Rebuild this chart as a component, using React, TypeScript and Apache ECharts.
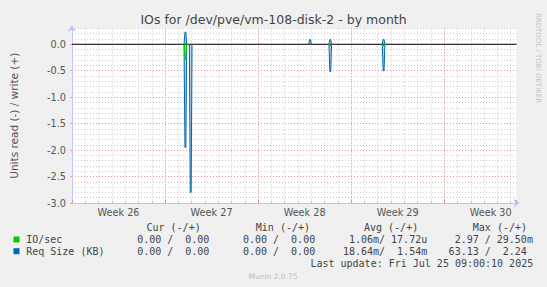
import React, { useEffect, useRef } from 'react';
import * as echarts from 'echarts';

// ---- data ----
const XMAX = 33.44; // days shown
const weekLabels = ['Week 26', 'Week 27', 'Week 28', 'Week 29', 'Week 30'];
const spikeDays = [8.53, 8.93, 17.91, 19.43, 23.44];
const reqSizeRead = [-1.95, -2.8, 0, -0.52, -0.5];
const reqSizeWrite = [0.23, 0, 0.09, 0.09, 0.09];
const ioSecRead = [-0.28, 0, 0, -0.03, -0.03];
const ioSecWrite = [0.02, 0, 0, 0.01, 0.01];

const legendHeaders = ['Cur (-/+)', 'Min (-/+)', 'Avg (-/+)', 'Max (-/+)'];
const ioSecStats = ['  0.00 /  0.00 ', '  0.00 /  0.00 ', '  1.06m/ 17.72u', '  2.97 / 29.50m'];
const reqSizeStats = ['  0.00 /  0.00 ', '  0.00 /  0.00 ', ' 18.64m/  1.54m', ' 63.13 /  2.24 '];
const lastUpdate = 'Last update: Fri Jul 25 09:00:10 2025';

const BLUE = '#0066b3';
const GREEN = '#00cc00';
const AXIS = '#c4c4f4';
const MINOR = '#cdcdcd';
const MAJOR = 'rgba(235,110,110,0.6)';
const MONO = '"DejaVu Sans Mono", monospace';
const SANS = '"DejaVu Sans", sans-serif';

function spikeData(days: number[], values: number[], hw: number) {
  const out: any[] = [];
  days.forEach((d, i) => {
    const v = values[i];
    if (v === 0) return;
    out.push([d - hw, 0], [d - hw / 3, v], [d + hw / 3, v], [d + hw, 0], [d + hw, '-']);
  });
  return out;
}

function txt(text: string, x: number, y: number, opts: any = {}) {
  const align = opts.align || 'left';
  return {
    type: 'text',
    x,
    y,
    rotation: opts.rotation || 0,
    silent: true,
    style: {
      text,
      fill: opts.fill || '#444',
      fontSize: opts.size || 10,
      fontFamily: opts.family || MONO,
      align,
      textAlign: align,
      verticalAlign: 'middle',
      textVerticalAlign: 'middle',
    },
  };
}

function statTexts(field: string, startX: number, y: number) {
  const CW = 6.02;
  const out: any[] = [];
  const re = /\S+(?: \S+)*/g;
  let m: RegExpExecArray | null;
  while ((m = re.exec(field)) !== null) {
    out.push(txt(m[0], startX + m.index * CW, y));
  }
  return out;
}

export default function App() {
  const ref = useRef<HTMLDivElement>(null);
  useEffect(() => {
    document.body.style.margin = '0';
    const chart = echarts.init(ref.current!, null, { renderer: 'svg' });
    const colStarts = [125.1, 230.9, 336.9, 442.6];
    const headerStarts = [146.5, 255.8, 364.0, 472.8];
    const graphics: any[] = [];
    graphics.push(txt('IOs for /dev/pve/vm-108-disk-2 - by month', 273.5, 19.5, { align: 'center', size: 12.5, family: SANS, fill: '#444' }));
    graphics.push(txt('RRDTOOL / TOBI OETIKER', 538, 58, { align: 'center', size: 7, family: SANS, fill: '#c4c4c4', rotation: -Math.PI / 2 }));
    legendHeaders.forEach((h, i) => graphics.push(txt(h, headerStarts[i], 227.7)));
    graphics.push({ type: 'rect', shape: { x: 13.5, y: 236.5, width: 6, height: 6 }, style: { fill: GREEN }, silent: true });
    graphics.push({ type: 'rect', shape: { x: 13.5, y: 248.2, width: 6, height: 6 }, style: { fill: BLUE }, silent: true });
    graphics.push(txt('IO/sec', 26.2, 239.5));
    graphics.push(txt('Req Size (KB)', 26.2, 251.2));
    ioSecStats.forEach((s, i) => graphics.push(...statTexts(s, colStarts[i], 239.5)));
    reqSizeStats.forEach((s, i) => graphics.push(...statTexts(s, colStarts[i], 251.2)));
    graphics.push(txt(lastUpdate, 533.2, 263.5, { align: 'right' }));
    graphics.push(txt('Munin 2.0.75', 273, 276, { align: 'center', size: 7.5, family: SANS, fill: '#bdbdbd' }));

    const lineSeries = (name: string, data: any[], color: string, area: boolean, z: number) => ({
      name,
      type: 'line',
      data,
      xAxisIndex: 0,
      yAxisIndex: 0,
      symbol: 'none',
      showSymbol: false,
      connectNulls: false,
      silent: true,
      z,
      lineStyle: { color, width: 1 },
      itemStyle: { color },
      areaStyle: area ? { color: 'rgba(0,102,179,0.42)', origin: 'auto' } : undefined,
    });

    chart.setOption({
      animation: false,
      backgroundColor: '#f0f0f0',
      grid: {
        left: 66,
        top: 28.4,
        right: 30.5,
        bottom: 84,
        show: true,
        backgroundColor: '#ffffff',
        borderWidth: 0,
      },
      xAxis: [
        {
          type: 'value', min: 0, max: XMAX, interval: 1, position: 'bottom', z: 0,
          axisLine: { show: true, onZero: false, lineStyle: { color: AXIS, width: 1 }, symbol: ['none', 'arrow'], symbolSize: [7, 6], symbolOffset: [0, 3] },
          axisTick: { show: true, inside: true, length: 2, lineStyle: { color: '#bbbbbb' } },
          axisLabel: { show: false },
          splitLine: { show: true, showMinLine: false, showMaxLine: false, lineStyle: { color: MINOR, type: [1, 2], width: 1 } },
        },
        {
          type: 'value', min: 0, max: XMAX, interval: 7, position: 'bottom', z: 1,
          axisLine: { show: false, onZero: false },
          axisTick: { show: true, inside: true, length: 3, lineStyle: { color: MAJOR } },
          axisLabel: { show: false },
          splitLine: { show: true, showMinLine: false, showMaxLine: false, lineStyle: { color: MAJOR, type: [1, 2], width: 1 } },
        },
        {
          type: 'value', min: 0, max: XMAX, interval: 3.5, position: 'bottom', z: 1,
          axisLine: { show: false, onZero: false },
          axisTick: { show: false },
          splitLine: { show: false },
          axisLabel: {
            show: true, margin: 4, color: '#555', fontSize: 9.7, fontFamily: SANS, hideOverlap: false,
            formatter: (v: number) => {
              const k = Math.round(v / 3.5);
              if (Math.abs(v - k * 3.5) > 1e-6 || k % 2 !== 1) return '';
              return weekLabels[(k - 1) / 2] || '';
            },
          },
        },
      ],
      yAxis: [
        {
          type: 'value', min: -3, max: 0.3, interval: 0.5, position: 'left', z: 1,
          name: 'Units read (-) / write (+)', nameLocation: 'middle', nameGap: 53, nameRotate: 90,
          nameTextStyle: { color: '#555', fontSize: 10.5, fontFamily: SANS },
          axisLine: { show: true, onZero: false, lineStyle: { color: AXIS, width: 1 }, symbol: ['none', 'arrow'], symbolSize: [7, 6], symbolOffset: [0, 3] },
          axisTick: { show: true, inside: false, length: 2, lineStyle: { color: MAJOR } },
          axisLabel: {
            show: true, margin: 6, color: '#555', fontSize: 9.7, fontFamily: SANS,
            formatter: (v: number) => (v > 0.01 ? '' : v.toFixed(1)),
          },
          splitLine: { show: true, showMinLine: false, showMaxLine: false, lineStyle: { color: MAJOR, type: [1, 2], width: 1 } },
        },
        {
          type: 'value', min: -3, max: 0.3, interval: 0.1, position: 'left', z: 0,
          axisLine: { show: false, onZero: false },
          axisTick: { show: false },
          axisLabel: { show: false },
          splitLine: { show: true, showMinLine: false, showMaxLine: true, lineStyle: { color: MINOR, type: [1, 2], width: 1 } },
        },
      ],
      series: [
        {
          name: 'zero', type: 'line', data: [[0, 0], [XMAX, 0]], xAxisIndex: 0, yAxisIndex: 0,
          symbol: 'none', silent: true, z: 2, lineStyle: { color: '#000', width: 1 },
        },
        lineSeries('Req Size read', spikeData(spikeDays, reqSizeRead, 0.1), BLUE, true, 3),
        lineSeries('Req Size write', spikeData(spikeDays, reqSizeWrite, 0.1), BLUE, true, 3),
        lineSeries('IO/sec read', spikeData(spikeDays, ioSecRead, 0.08), GREEN, false, 4),
        lineSeries('IO/sec write', spikeData(spikeDays, ioSecWrite, 0.08), GREEN, false, 4),
      ],
      graphic: graphics,
    });
    return () => chart.dispose();
  }, []);
  return <div ref={ref} style={{ width: 547, height: 287, position: 'absolute', left: 0, top: 0 }} />;
}
